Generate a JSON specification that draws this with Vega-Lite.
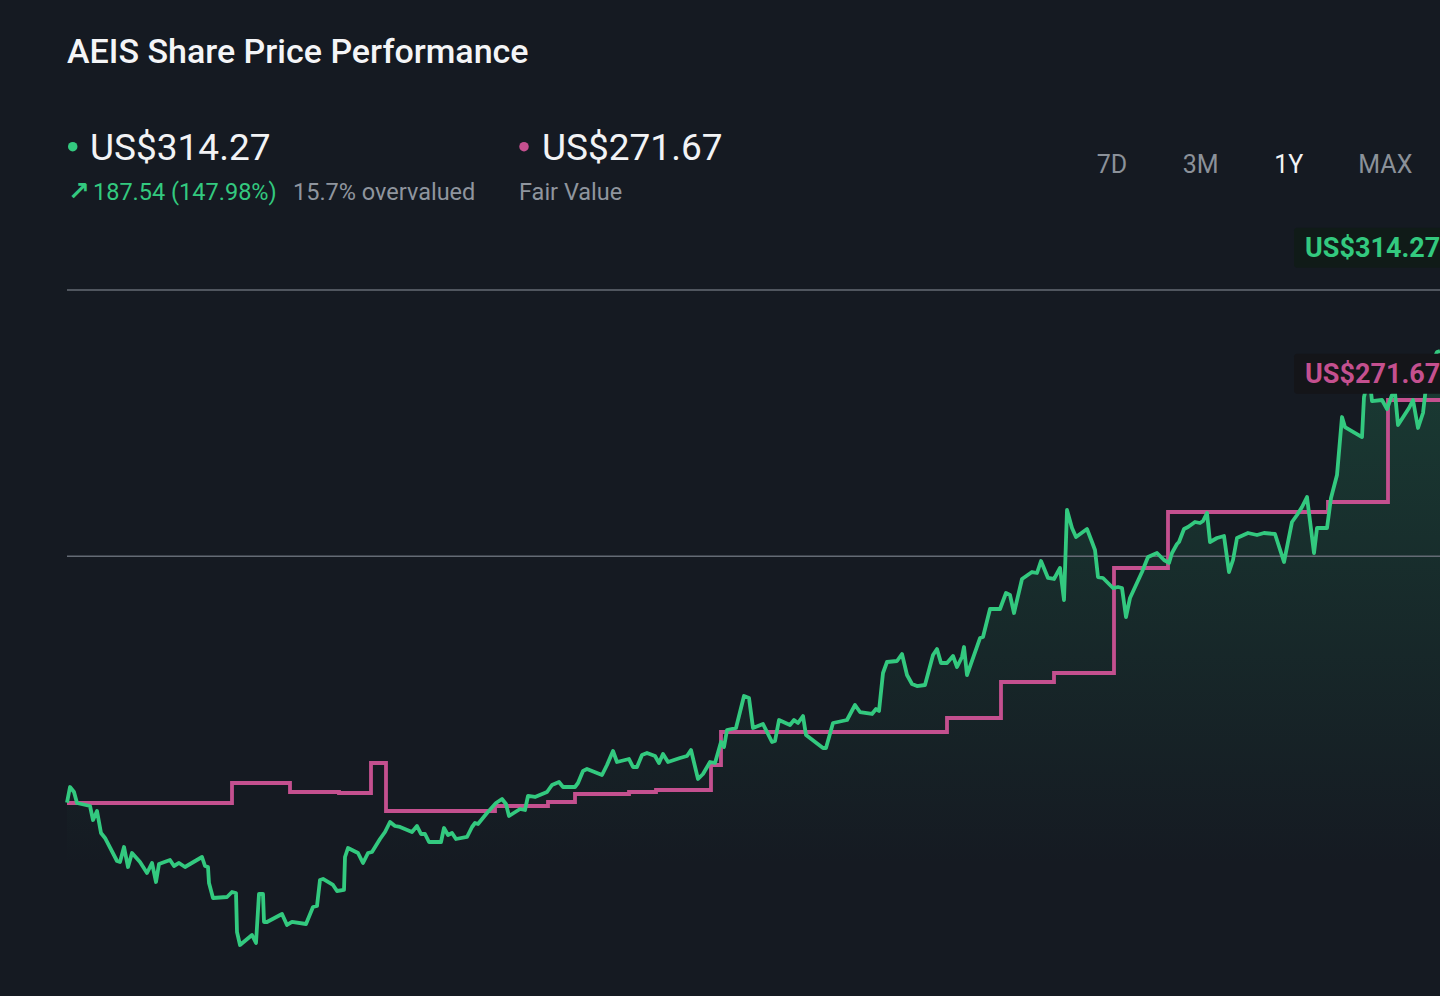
{
  "$schema": "https://vega.github.io/schema/vega-lite/v6.json",
  "width": 1373,
  "height": 900,
  "autosize": {"type": "none"},
  "padding": {"left": 67, "top": 96, "right": 0, "bottom": 0},
  "background": "#151a22",
  "config": {
    "view": {"stroke": null},
    "text": {"font": "Roboto"},
    "title": {"font": "Roboto"}
  },
  "title": {
    "text": "AEIS Share Price Performance",
    "anchor": "start",
    "frame": "group",
    "fontSize": 34,
    "fontWeight": 500,
    "color": "#f4f5f7",
    "baseline": "alphabetic",
    "offset": -1
  },
  "datasets": {
    "price": [
      {"day": 0, "price": 126.73}, {"day": 0.75, "price": 131.98}, {"day": 1.75, "price": 130.29}, {"day": 2.5, "price": 126.57},
      {"day": 5.75, "price": 125.56}, {"day": 6.5, "price": 120.82}, {"day": 7.5, "price": 123.87}, {"day": 8.5, "price": 116.43},
      {"day": 9.5, "price": 114.74}, {"day": 12.5, "price": 106.96}, {"day": 13.25, "price": 106.62}, {"day": 14.25, "price": 111.7},
      {"day": 15.25, "price": 104.93}, {"day": 16.25, "price": 109.67}, {"day": 18.25, "price": 106.62}, {"day": 20, "price": 102.91},
      {"day": 21.25, "price": 106.29}, {"day": 22.25, "price": 99.86}, {"day": 23, "price": 105.95}, {"day": 25.75, "price": 107.3},
      {"day": 26.75, "price": 105.27}, {"day": 28, "price": 106.29}, {"day": 29.5, "price": 104.93}, {"day": 33.75, "price": 108.31},
      {"day": 34.5, "price": 105.27}, {"day": 35.25, "price": 104.93}, {"day": 35.5, "price": 99.52}, {"day": 36.5, "price": 94.45},
      {"day": 40, "price": 94.79}, {"day": 41.25, "price": 96.48}, {"day": 42.25, "price": 96.14}, {"day": 42.5, "price": 82.96},
      {"day": 43.25, "price": 78.56}, {"day": 46.25, "price": 81.94}, {"day": 47.25, "price": 79.24}, {"day": 48, "price": 95.81},
      {"day": 49, "price": 95.81}, {"day": 49.25, "price": 86.34}, {"day": 50, "price": 86.34}, {"day": 53.75, "price": 89.04},
      {"day": 55, "price": 85.33}, {"day": 56.25, "price": 86.34}, {"day": 59.75, "price": 85.66}, {"day": 61.5, "price": 91.41},
      {"day": 62.5, "price": 91.75}, {"day": 63.25, "price": 100.54}, {"day": 64, "price": 100.88}, {"day": 66.5, "price": 98.85},
      {"day": 67.5, "price": 96.82}, {"day": 69.25, "price": 97.16}, {"day": 69.5, "price": 108.31}, {"day": 70.25, "price": 111.36},
      {"day": 72.75, "price": 109.67}, {"day": 74, "price": 106.29}, {"day": 75.25, "price": 109.67}, {"day": 76.25, "price": 110.0},
      {"day": 78.25, "price": 114.4}, {"day": 79.5, "price": 116.77}, {"day": 80.75, "price": 120.15}, {"day": 82, "price": 118.79},
      {"day": 83.25, "price": 118.46}, {"day": 86.25, "price": 116.77}, {"day": 87.5, "price": 118.79}, {"day": 88.5, "price": 116.09},
      {"day": 89.5, "price": 116.09}, {"day": 90.5, "price": 113.39}, {"day": 93.5, "price": 113.39}, {"day": 94.25, "price": 118.12},
      {"day": 95.25, "price": 115.75}, {"day": 96.25, "price": 116.43}, {"day": 97.25, "price": 114.4}, {"day": 100, "price": 115.08},
      {"day": 101.25, "price": 118.46}, {"day": 102, "price": 119.81}, {"day": 102.75, "price": 119.47}, {"day": 105, "price": 123.19},
      {"day": 107.25, "price": 126.57}, {"day": 108.75, "price": 127.92}, {"day": 109.75, "price": 126.23}, {"day": 110.5, "price": 122.17},
      {"day": 113.25, "price": 124.54}, {"day": 114.5, "price": 124.2}, {"day": 115.25, "price": 128.94}, {"day": 117, "price": 128.6},
      {"day": 120, "price": 130.29}, {"day": 121.25, "price": 132.66}, {"day": 123, "price": 133.67}, {"day": 124, "price": 131.98},
      {"day": 127, "price": 131.98}, {"day": 127.75, "price": 133.33}, {"day": 129, "price": 137.39}, {"day": 130, "price": 138.06},
      {"day": 133.75, "price": 136.04}, {"day": 135, "price": 139.42}, {"day": 136.5, "price": 144.15}, {"day": 137.5, "price": 140.43},
      {"day": 140.5, "price": 141.44}, {"day": 141.5, "price": 138.74}, {"day": 142.5, "price": 138.74}, {"day": 143.75, "price": 142.8},
      {"day": 145, "price": 143.47}, {"day": 147, "price": 142.46}, {"day": 148, "price": 140.09}, {"day": 149, "price": 143.14},
      {"day": 150.25, "price": 140.43}, {"day": 153.25, "price": 141.78}, {"day": 155, "price": 142.46}, {"day": 156, "price": 144.49},
      {"day": 157.75, "price": 134.68}, {"day": 159, "price": 136.37}, {"day": 160.75, "price": 140.43}, {"day": 162, "price": 140.09},
      {"day": 163.5, "price": 147.19}, {"day": 164.25, "price": 145.5}, {"day": 165, "price": 151.25}, {"day": 167.25, "price": 151.93},
      {"day": 169.25, "price": 162.74}, {"day": 170.5, "price": 162.07}, {"day": 171.5, "price": 151.93}, {"day": 174, "price": 153.28},
      {"day": 176.25, "price": 147.19}, {"day": 177, "price": 147.53}, {"day": 178, "price": 154.63}, {"day": 180.75, "price": 152.94},
      {"day": 181.75, "price": 154.63}, {"day": 182.75, "price": 153.62}, {"day": 184, "price": 155.98}, {"day": 184.75, "price": 149.56},
      {"day": 189, "price": 145.16}, {"day": 189.75, "price": 145.16}, {"day": 191.5, "price": 153.62}, {"day": 195, "price": 154.63},
      {"day": 197, "price": 159.7}, {"day": 198.25, "price": 157.33}, {"day": 201.25, "price": 156.66}, {"day": 202.25, "price": 158.35},
      {"day": 203, "price": 157.67}, {"day": 204, "price": 170.52}, {"day": 205, "price": 174.24}, {"day": 207.5, "price": 174.58},
      {"day": 208.75, "price": 176.94}, {"day": 210, "price": 169.84}, {"day": 211.25, "price": 166.8}, {"day": 212.5, "price": 166.12},
      {"day": 214.5, "price": 166.46}, {"day": 216.5, "price": 176.6}, {"day": 217.5, "price": 178.63}, {"day": 218.5, "price": 173.9},
      {"day": 220, "price": 173.9}, {"day": 221.5, "price": 176.27}, {"day": 222.5, "price": 172.55}, {"day": 223.75, "price": 175.93},
      {"day": 224.25, "price": 179.31}, {"day": 225, "price": 169.84}, {"day": 228.25, "price": 182.35}, {"day": 229, "price": 182.69},
      {"day": 230.75, "price": 192.16}, {"day": 233.25, "price": 192.16}, {"day": 234.75, "price": 197.56}, {"day": 235.75, "price": 196.89},
      {"day": 236.75, "price": 190.8}, {"day": 238.75, "price": 202.3}, {"day": 241.25, "price": 204.66}, {"day": 242.5, "price": 204.33},
      {"day": 243.5, "price": 208.38}, {"day": 245.25, "price": 202.64}, {"day": 246.75, "price": 202.3}, {"day": 248.25, "price": 206.02},
      {"day": 249.25, "price": 195.2}, {"day": 250, "price": 225.62}, {"day": 251.25, "price": 219.54}, {"day": 252.25, "price": 216.5},
      {"day": 255, "price": 219.2}, {"day": 256.25, "price": 214.81}, {"day": 257, "price": 212.1}, {"day": 257.75, "price": 202.97},
      {"day": 259, "price": 202.64}, {"day": 261.5, "price": 199.25}, {"day": 262.75, "price": 199.59}, {"day": 263.75, "price": 199.25},
      {"day": 264.75, "price": 189.45}, {"day": 265.75, "price": 195.87}, {"day": 268.75, "price": 204.66}, {"day": 270.25, "price": 209.73},
      {"day": 272.5, "price": 211.09}, {"day": 274.25, "price": 208.72}, {"day": 275.5, "price": 207.71}, {"day": 276.25, "price": 211.09},
      {"day": 277.5, "price": 214.13}, {"day": 278, "price": 214.81}, {"day": 279.25, "price": 219.2}, {"day": 280.25, "price": 219.88},
      {"day": 282, "price": 221.57}, {"day": 283.25, "price": 221.23}, {"day": 284, "price": 221.91}, {"day": 285, "price": 224.61},
      {"day": 285.75, "price": 214.81}, {"day": 287.5, "price": 216.16}, {"day": 289.25, "price": 216.83}, {"day": 290.5, "price": 204.66},
      {"day": 291.5, "price": 208.72}, {"day": 292.5, "price": 216.16}, {"day": 295.25, "price": 217.85}, {"day": 297.5, "price": 217.17},
      {"day": 299.25, "price": 217.85}, {"day": 302, "price": 217.51}, {"day": 304.25, "price": 208.04}, {"day": 306.25, "price": 221.57},
      {"day": 307.5, "price": 223.93}, {"day": 308.75, "price": 226.64}, {"day": 310, "price": 230.02}, {"day": 311.75, "price": 211.09},
      {"day": 312.5, "price": 219.54}, {"day": 315, "price": 219.54}, {"day": 316, "price": 229.68}, {"day": 317.5, "price": 237.46},
      {"day": 318.75, "price": 257.06}, {"day": 319.5, "price": 253.68}, {"day": 323.75, "price": 250.3}, {"day": 324.25, "price": 263.83},
      {"day": 325, "price": 267.88}, {"day": 325.75, "price": 268.56}, {"day": 326.25, "price": 262.47}, {"day": 328.75, "price": 262.81},
      {"day": 330, "price": 259.77}, {"day": 331.25, "price": 264.5}, {"day": 332, "price": 265.18}, {"day": 332.75, "price": 254.36},
      {"day": 335.5, "price": 260.11}, {"day": 336.5, "price": 262.81}, {"day": 337.75, "price": 253.35}, {"day": 339, "price": 258.42},
      {"day": 339.75, "price": 267.21}, {"day": 341.25, "price": 275.32}, {"day": 342.5, "price": 279.04}, {"day": 343.25, "price": 279.38}
    ],
    "fair": [
      {"day": 0, "fv": 126.57}, {"day": 41.25, "fv": 133.33}, {"day": 55.75, "fv": 130.29}, {"day": 68, "fv": 129.95},
      {"day": 76, "fv": 140.09}, {"day": 79.75, "fv": 123.87}, {"day": 107, "fv": 125.56}, {"day": 120.25, "fv": 126.91},
      {"day": 127, "fv": 129.61}, {"day": 140.5, "fv": 130.29}, {"day": 147.25, "fv": 130.96}, {"day": 161, "fv": 139.42},
      {"day": 163.5, "fv": 150.57}, {"day": 220, "fv": 155.31}, {"day": 233.5, "fv": 167.48}, {"day": 246.75, "fv": 170.52},
      {"day": 261.75, "fv": 206.02}, {"day": 275.25, "fv": 224.95}, {"day": 315.25, "fv": 228.33}, {"day": 330.25, "fv": 262.81},
      {"day": 343.25, "fv": 262.81}
    ],
    "grid": [
      {"level": 210}, {"level": 300}
    ],
    "labels": [
      {"series": "price", "value": 314.27, "label": "US$314.27"},
      {"series": "fair", "value": 271.67, "label": "US$271.67"}
    ]
  },
  "layer": [
    {
      "data": {"name": "price"},
      "mark": {
        "type": "area",
        "color": {
          "gradient": "linear", "x1": 0, "y1": 0, "x2": 0, "y2": 1,
          "stops": [
            {"offset": 0, "color": "rgba(47,204,128,0.19)"},
            {"offset": 0.45, "color": "rgba(47,204,128,0.08)"},
            {"offset": 0.8, "color": "rgba(47,204,128,0)"}
          ]
        }
      },
      "encoding": {
        "x": {"field": "day", "type": "quantitative", "scale": {"domain": [0, 343.25], "nice": false, "zero": false}, "axis": null},
        "y": {"field": "price", "type": "quantitative", "scale": {"domain": [61.32, 365.59], "nice": false, "zero": false}, "axis": null},
        "y2": {"datum": 61.32}
      }
    },
    {
      "data": {"name": "grid"},
      "mark": {"type": "rule", "color": "#646b75", "strokeWidth": 1.6},
      "encoding": {
        "y": {"field": "level", "type": "quantitative", "axis": null}
      }
    },
    {
      "data": {"name": "fair"},
      "mark": {"type": "line", "interpolate": "step-after", "color": "#c4508f", "strokeWidth": 3.8},
      "encoding": {
        "x": {"field": "day", "type": "quantitative", "axis": null},
        "y": {"field": "fv", "type": "quantitative", "axis": null}
      }
    },
    {
      "data": {"name": "price"},
      "mark": {"type": "line", "color": "#33c97f", "strokeWidth": 3.8, "strokeJoin": "round"},
      "encoding": {
        "x": {"field": "day", "type": "quantitative", "axis": null},
        "y": {"field": "price", "type": "quantitative", "axis": null}
      }
    },
    {
      "data": {"name": "labels"},
      "mark": {"type": "rect", "yOffset": -20, "y2Offset": 20, "cornerRadius": 3},
      "encoding": {
        "x": {"datum": 306.75, "axis": null},
        "x2": {"datum": 362},
        "y": {"field": "value", "type": "quantitative", "axis": null},
        "y2": {"field": "value"},
        "fill": {"field": "series", "type": "nominal", "scale": {"domain": ["price", "fair"], "range": ["#101b18", "#141519"]}, "legend": null}
      }
    },
    {
      "data": {"name": "labels"},
      "mark": {"type": "text", "align": "left", "baseline": "middle", "fontSize": 27, "fontWeight": "bold", "letterSpacing": 1.2, "dy": 1},
      "encoding": {
        "x": {"datum": 309.5, "axis": null},
        "y": {"field": "value", "type": "quantitative", "axis": null},
        "text": {"field": "label"},
        "color": {"field": "series", "type": "nominal", "scale": {"domain": ["price", "fair"], "range": ["#33c97f", "#c4508f"]}, "legend": null}
      }
    },
    {
      "data": {"values": [{"s": "Share Price"}]},
      "mark": {"type": "point", "filled": true, "size": 90, "color": "#33c97f", "opacity": 1},
      "encoding": {"x": {"datum": 1.43, "axis": null}, "y": {"datum": 348.45, "axis": null}}
    },
    {
      "data": {"values": [{"t": "US$314.27"}]},
      "mark": {"type": "text", "align": "left", "baseline": "alphabetic", "fontSize": 37, "color": "#f2f3f5"},
      "encoding": {"x": {"datum": 5.75, "axis": null}, "y": {"datum": 343.95, "axis": null}, "text": {"field": "t"}}
    },
    {
      "data": {"values": [{"t": "↗"}]},
      "mark": {"type": "text", "align": "left", "baseline": "alphabetic", "fontSize": 26, "fontWeight": "bold", "font": "DejaVu Sans", "color": "#33c97f"},
      "encoding": {"x": {"datum": 0.25, "axis": null}, "y": {"datum": 330.43, "axis": null}, "text": {"field": "t"}}
    },
    {
      "data": {"values": [{"t": "187.54 (147.98%)"}]},
      "mark": {"type": "text", "align": "left", "baseline": "alphabetic", "fontSize": 23.5, "color": "#33c97f"},
      "encoding": {"x": {"datum": 6.5, "axis": null}, "y": {"datum": 330.43, "axis": null}, "text": {"field": "t"}}
    },
    {
      "data": {"values": [{"t": "15.7% overvalued"}]},
      "mark": {"type": "text", "align": "left", "baseline": "alphabetic", "fontSize": 23.5, "color": "#8f959e"},
      "encoding": {"x": {"datum": 56.5, "axis": null}, "y": {"datum": 330.43, "axis": null}, "text": {"field": "t"}}
    },
    {
      "data": {"values": [{"s": "Fair Value"}]},
      "mark": {"type": "point", "filled": true, "size": 90, "color": "#c4508f", "opacity": 1},
      "encoding": {"x": {"datum": 114.25, "axis": null}, "y": {"datum": 348.45, "axis": null}}
    },
    {
      "data": {"values": [{"t": "US$271.67"}]},
      "mark": {"type": "text", "align": "left", "baseline": "alphabetic", "fontSize": 37, "color": "#f2f3f5"},
      "encoding": {"x": {"datum": 118.75, "axis": null}, "y": {"datum": 343.95, "axis": null}, "text": {"field": "t"}}
    },
    {
      "data": {"values": [{"t": "Fair Value"}]},
      "mark": {"type": "text", "align": "left", "baseline": "alphabetic", "fontSize": 23.5, "color": "#8f959e"},
      "encoding": {"x": {"datum": 113, "axis": null}, "y": {"datum": 330.43, "axis": null}, "text": {"field": "t"}}
    },
    {
      "data": {"values": [{"t": "7D"}]},
      "mark": {"type": "text", "align": "left", "baseline": "alphabetic", "fontSize": 25, "color": "#8b9199"},
      "encoding": {"x": {"datum": 257.43, "axis": null}, "y": {"datum": 339.45, "axis": null}, "text": {"field": "t"}}
    },
    {
      "data": {"values": [{"t": "3M"}]},
      "mark": {"type": "text", "align": "left", "baseline": "alphabetic", "fontSize": 25, "color": "#8b9199"},
      "encoding": {"x": {"datum": 278.93, "axis": null}, "y": {"datum": 339.45, "axis": null}, "text": {"field": "t"}}
    },
    {
      "data": {"values": [{"t": "1Y"}]},
      "mark": {"type": "text", "align": "left", "baseline": "alphabetic", "fontSize": 25, "color": "#f2f3f5"},
      "encoding": {"x": {"datum": 301.83, "axis": null}, "y": {"datum": 339.45, "axis": null}, "text": {"field": "t"}}
    },
    {
      "data": {"values": [{"t": "MAX"}]},
      "mark": {"type": "text", "align": "left", "baseline": "alphabetic", "fontSize": 25, "color": "#8b9199"},
      "encoding": {"x": {"datum": 322.83, "axis": null}, "y": {"datum": 339.45, "axis": null}, "text": {"field": "t"}}
    }
  ]
}
